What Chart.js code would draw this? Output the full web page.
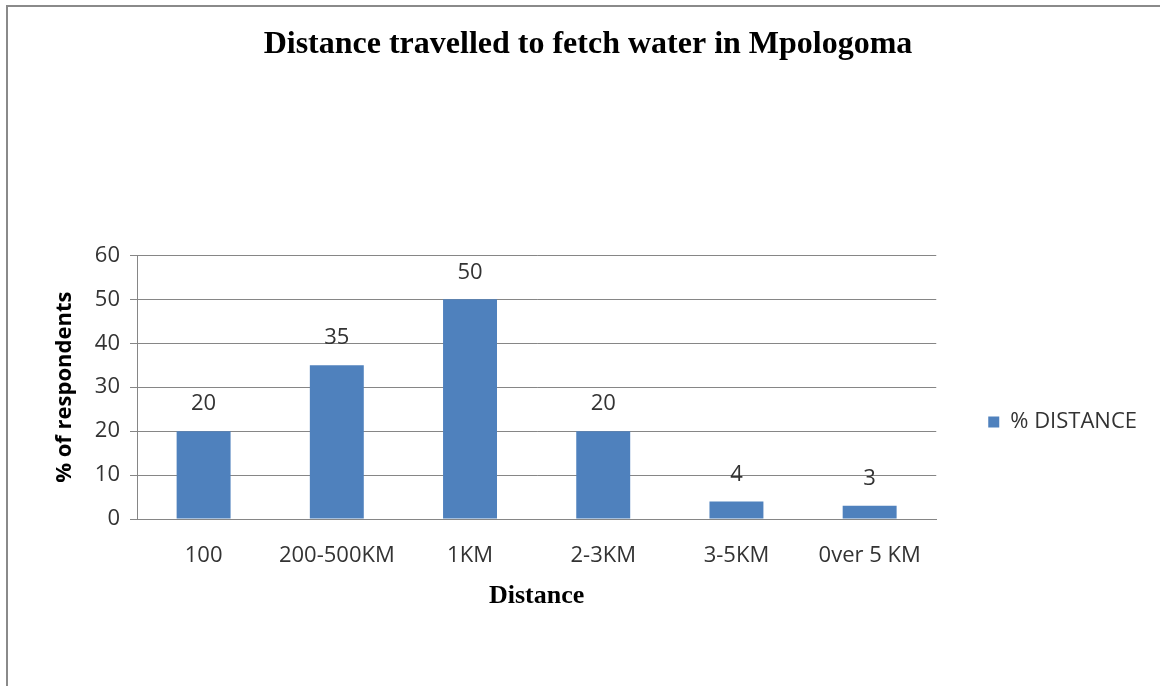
<!DOCTYPE html>
<html>
<head>
<meta charset="utf-8">
<title>Distance travelled to fetch water in Mpologoma</title>
<script src="https://cdn.jsdelivr.net/npm/chart.js@4.4.1/dist/chart.umd.min.js"></script>
<style>
  html, body { margin: 0; padding: 0; background: #ffffff; }
  #wrap { width: 1160px; height: 686px; }
</style>
</head>
<body>
<div id="wrap"><canvas id="chart" width="1160" height="686"></canvas></div>
<script>
// Distance categories and share of respondents (%)
const categories = ['100', '200-500KM', '1KM', '2-3KM', '3-5KM', '0ver 5 KM'];
const distanceShare = [20, 35, 50, 20, 4, 3];
const seriesName = '% DISTANCE';
const yTicks = [0, 10, 20, 30, 40, 50, 60];

const chartTitle = 'Distance travelled to fetch water in Mpologoma';
const xTitle = 'Distance';
const yTitle = '% of respondents';

const BAR_BLUE = '#4F81BD';
const GRID_GREY = '#868686';
const TEXT_DARK = '#333333';
const SANS = '"Open Sans", "Liberation Sans", sans-serif';
const SERIF = '"Liberation Serif", "Times New Roman", serif';

// White page with the grey frame along the top and left edges
const framePlugin = {
  id: 'frame',
  beforeDraw(chart) {
    const { ctx, width, height } = chart;
    ctx.save();
    ctx.fillStyle = '#ffffff';
    ctx.fillRect(0, 0, width, height);
    ctx.strokeStyle = '#8a8a8a';
    ctx.lineWidth = 2;
    ctx.strokeRect(7, 6, width + 20, height + 20);
    ctx.restore();
  }
};

// Value labels above every bar
const valueLabels = {
  id: 'valueLabels',
  afterDatasetsDraw(chart) {
    const { ctx } = chart;
    ctx.save();
    ctx.font = '22px ' + SANS;
    ctx.fillStyle = TEXT_DARK;
    ctx.textAlign = 'center';
    ctx.textBaseline = 'middle';
    chart.data.datasets.forEach((ds, di) => {
      chart.getDatasetMeta(di).data.forEach((bar, i) => {
        ctx.fillText(String(ds.data[i]), bar.x, bar.y - 27);
      });
    });
    ctx.restore();
  }
};

// Moves the legend block so its entry sits level with the lower bars
const legendPlacement = {
  id: 'legendPlacement',
  afterLayout(chart) {
    const lg = chart.legend;
    if (!lg) return;
    const d = 422 - (lg.top + lg.bottom) / 2;
    lg.top += d;
    lg.bottom += d;
  }
};

const PAD_L = 29;
const PAD_R = 13;

new Chart(document.getElementById('chart'), {
  type: 'bar',
  data: {
    labels: categories,
    datasets: [{
      label: seriesName,
      data: distanceShare,
      backgroundColor: BAR_BLUE,
      borderWidth: 0,
      barPercentage: 0.405,
      categoryPercentage: 1.0
    }]
  },
  options: {
    responsive: false,
    animation: false,
    devicePixelRatio: 1,
    layout: { padding: { left: PAD_L, right: PAD_R, top: 0, bottom: 0 } },
    plugins: {
      title: {
        display: true,
        text: chartTitle,
        color: '#000000',
        font: { family: SERIF, size: 32, weight: 'bold' },
        padding: { top: 26, bottom: 191 }
      },
      legend: {
        display: true,
        position: 'right',
        labels: {
          boxWidth: 11,
          boxHeight: 11,
          padding: 52,
          color: TEXT_DARK,
          font: { family: SANS, size: 22 }
        }
      },
      tooltip: { enabled: false }
    },
    scales: {
      x: {
        afterFit(scale) {
          scale.height = 167;
        },
        grid: { display: false, drawTicks: false },
        border: { display: true, color: GRID_GREY, width: 1 },
        ticks: {
          color: TEXT_DARK,
          padding: 24,
          maxRotation: 0,
          autoSkip: false,
          font: { family: SANS, size: 22 }
        },
        title: {
          display: true,
          text: xTitle,
          color: '#000000',
          font: { family: SERIF, size: 26, weight: 'bold' },
          padding: { top: 4, bottom: 74 }
        }
      },
      y: {
        min: 0,
        max: 60,
        afterBuildTicks(scale) {
          scale.ticks = yTicks.map(v => ({ value: v }));
        },
        afterFit(scale) {
          scale.width = 137 - PAD_L;
        },
        grid: { color: GRID_GREY, lineWidth: 1, tickLength: 7, drawTicks: true },
        border: { display: true, color: GRID_GREY, width: 1 },
        ticks: {
          color: TEXT_DARK,
          padding: 10,
          font: { family: SANS, size: 22 }
        },
        title: {
          display: true,
          text: yTitle,
          color: '#000000',
          font: { family: SANS, size: 22, weight: 'bold' },
          padding: { top: 65 - PAD_L - 13.2, bottom: 0 }
        }
      }
    }
  },
  plugins: [framePlugin, valueLabels, legendPlacement]
});
</script>
</body>
</html>
